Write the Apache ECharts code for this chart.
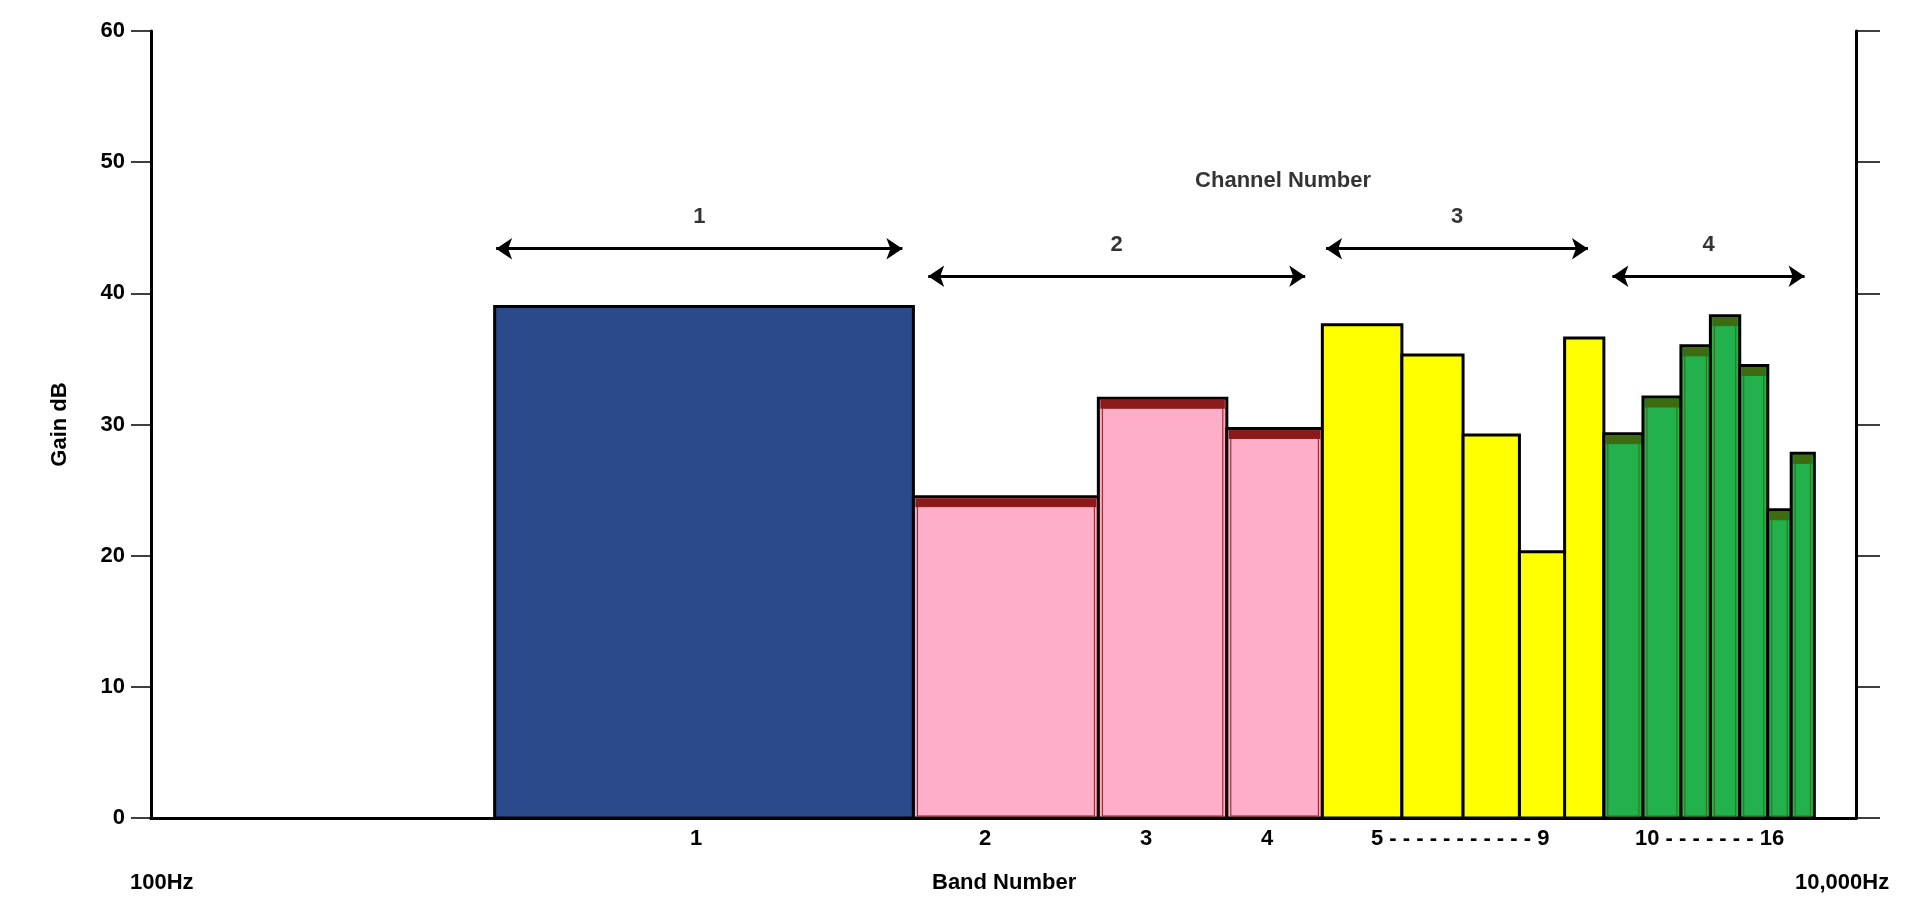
<!DOCTYPE html>
<html><head><meta charset="utf-8">
<script src="https://cdn.jsdelivr.net/npm/echarts@6/dist/echarts.min.js"></script>
<style>html,body{margin:0;padding:0;background:#fff}#c{width:1920px;height:920px}</style>
</head><body><div id="c"></div>
<script>
// band edges (Hz), band gains (dB), channel of each band
const bandEdges = [253, 784, 1292, 1828, 2366, 2933, 3460, 4029, 4552, 5061, 5625, 6232, 6748, 7305, 7880, 8394, 8936];
const bandGains = [39, 24.5, 32, 29.7, 37.6, 35.3, 29.2, 20.3, 36.6, 29.3, 32.1, 36, 38.3, 34.5, 23.5, 27.8];
const bandChannel = [1, 2, 2, 2, 3, 3, 3, 3, 3, 4, 4, 4, 4, 4, 4, 4];
const channelFill = {1: '#2a4a8c', 2: '#ffaec9', 3: '#ffff00', 4: '#22b14c'};
const channelTop = {1: null, 2: '#8b1a1a', 3: null, 4: '#3d6b10'};
// channel arrows: [startHz, endHz, dB], label
const arrowSpans = [[254, 761, 43.4], [816, 2259, 41.3], [2390, 4848, 43.4], [5179, 8704, 41.3]];
const channelLabels = ['1', '2', '3', '4'];

const barData = bandGains.map((g, i) => [bandEdges[i], bandEdges[i + 1], g, bandChannel[i]]);
const F = 'Liberation Sans, Arial, sans-serif';

const chart = echarts.init(document.getElementById('c'));
chart.setOption({
  animation: false,
  grid: {left: 151, right: 64, top: 31, bottom: 102},
  xAxis: [
    {type: 'log', logBase: 10, min: 100, max: 10000, axisLabel: {show: false}, axisTick: {show: false}, splitLine: {show: false}, axisLine: {lineStyle: {color: '#000', width: 3}}},
    {type: 'log', logBase: 10, min: 100, max: 10000, position: 'top', axisLabel: {show: false}, axisTick: {show: false}, splitLine: {show: false}, axisLine: {show: true, lineStyle: {color: '#000', width: 3}}}
  ],
  yAxis: [
    {type: 'value', min: 0, max: 60, interval: 10, name: 'Gain dB', nameLocation: 'middle', nameGap: 80, nameRotate: 90,
     nameTextStyle: {fontFamily: F, fontWeight: 'bold', fontSize: 22, color: '#000'},
     axisLabel: {fontFamily: F, fontWeight: 'bold', fontSize: 22, color: '#000', margin: 26},
     axisTick: {show: true, length: 20, lineStyle: {color: '#000', width: 1.5}},
     splitLine: {show: false}, axisLine: {show: true, lineStyle: {color: '#000', width: 3}}},
    {type: 'value', min: 0, max: 60, interval: 10, position: 'right', axisLabel: {show: false},
     axisTick: {show: true, length: 24, lineStyle: {color: '#000', width: 1.5}},
     splitLine: {show: false}, axisLine: {show: true, lineStyle: {color: '#000', width: 3}}}
  ],
  series: [
    {type: 'custom', data: barData, encode: {x: [0, 1], y: 2},
     renderItem: function (params, api) {
       const p0 = api.coord([api.value(0), api.value(2)]);
       const p1 = api.coord([api.value(1), 0]);
       const ch = api.value(3);
       const children = [{type: 'rect', shape: {x: p0[0], y: p0[1], width: p1[0] - p0[0], height: p1[1] - p0[1]},
         style: {fill: channelFill[ch], stroke: '#000', lineWidth: 3}}];
       if (channelTop[ch]) {
         children.push({type: 'rect', shape: {x: p0[0] + 2, y: p0[1] + 1.5, width: p1[0] - p0[0] - 4, height: 9},
           style: {fill: channelTop[ch]}});
         children.push({type: 'rect', shape: {x: p0[0] + 4, y: p0[1] + 10, width: p1[0] - p0[0] - 8, height: p1[1] - p0[1] - 12},
           style: {fill: channelFill[ch], stroke: channelTop[ch], lineWidth: 1}});
       }
       return {type: 'group', children: children};
     }},
    {type: 'lines', coordinateSystem: 'cartesian2d', symbol: ['arrow', 'arrow'], symbolSize: 16,
     lineStyle: {color: '#000', width: 3, opacity: 1},
     data: arrowSpans.map(a => ({coords: [[a[0], a[2]], [a[1], a[2]]]}))},
    {type: 'scatter', symbolSize: 0,
     data: arrowSpans.map((a, i) => ({value: [Math.sqrt(a[0] * a[1]), a[2] + 2.4], label: {show: true, formatter: channelLabels[i]}})),
     label: {position: 'inside', fontFamily: F, fontWeight: 'bold', fontSize: 22, color: '#000'}},
    {type: 'scatter', symbolSize: 0,
     data: [{value: [2128, 48.6], label: {show: true, formatter: 'Channel Number'}}],
     label: {position: 'inside', fontFamily: F, fontWeight: 'bold', fontSize: 22, color: '#000'}}
  ],
  graphic: [
    {type: 'text', left: 690, top: 828, style: {text: '1', font: 'bold 22px ' + F, fill: '#000'}},
    {type: 'text', left: 979, top: 828, style: {text: '2', font: 'bold 22px ' + F, fill: '#000'}},
    {type: 'text', left: 1140, top: 828, style: {text: '3', font: 'bold 22px ' + F, fill: '#000'}},
    {type: 'text', left: 1261, top: 828, style: {text: '4', font: 'bold 22px ' + F, fill: '#000'}},
    {type: 'text', left: 1371, top: 828, style: {text: '5 - - - - - - - - - - - 9', font: 'bold 22px ' + F, fill: '#000'}},
    {type: 'text', left: 1635, top: 828, style: {text: '10 - - - - - - - 16', font: 'bold 22px ' + F, fill: '#000'}},
    {type: 'text', left: 130, top: 872, style: {text: '100Hz', font: 'bold 22px ' + F, fill: '#000'}},
    {type: 'text', left: 932, top: 872, style: {text: 'Band Number', font: 'bold 22px ' + F, fill: '#000'}},
    {type: 'text', left: 1795, top: 872, style: {text: '10,000Hz', font: 'bold 22px ' + F, fill: '#000'}}
  ]
});
</script></body></html>
